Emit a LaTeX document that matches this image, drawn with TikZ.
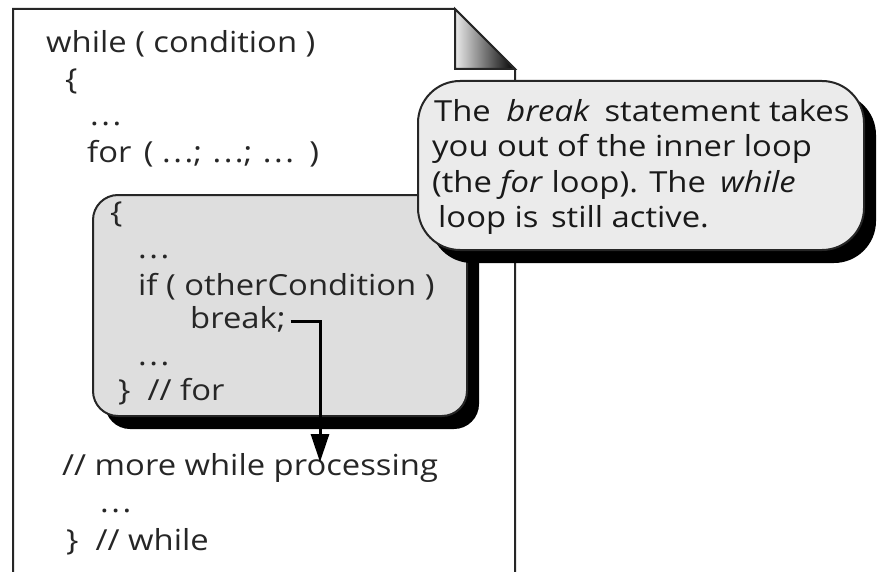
\documentclass[tikz,border=0pt]{standalone}
\usepackage{fontspec}
\setmainfont[FakeStretch=1.13]{Open Sans}
\usetikzlibrary{arrows.meta}
% spaced three-dot ellipsis
\newcommand\ddd{.\kern2.5pt.\kern2.5pt.}
\begin{document}
\begin{tikzpicture}[x=1pt,y=-1pt,
  code/.style={anchor=base west, inner sep=0pt, font=\fontsize{29}{34}\selectfont, text=black!85},
  note/.style={anchor=base west, inner sep=0pt, font=\fontsize{29}{34}\selectfont, text=black!90},
  outline/.style={line width=2pt, draw=black!85},
  shadowfill/.style={fill=black},
  flow/.style={line width=3pt, -{Triangle[length=28pt,width=18pt]}}]
\useasboundingbox (0,0) rectangle (877,572);

% sheet of paper with folded corner
\draw[outline] (13,580) -- (13,9) -- (455,9) -- (515,69) -- (515,580);
\shade[left color=white!92!black, right color=black] (455,9) -- (455,69) -- (515,69) -- cycle;
\draw[outline, line join=miter] (455,9) -- (455,69) -- (515,69) -- cycle;

% outer loop text
\node[code] (w1) at (46,53) {while ( condition )};
\node[code] (w2) at (65,90) {\{};
\node[code] (w3) at (90,126) {\ddd};
\node[code] (w4) at (87,163) {for\hspace{4pt} ( \ddd;\hspace{2pt} \ddd;\hspace{2pt} \ddd\hspace{4pt} )};

% inner loop box with drop shadow
\fill[shadowfill, rounded corners=25pt] (105,207) rectangle (479,429);
\draw[outline, fill=black!13, rounded corners=25pt] (93,195) rectangle (467,416);

\node[code] (f1) at (110,222) {\{};
\node[code] (f2) at (138,258) {\ddd};
\node[code] (f3) at (138,295) {if ( otherCondition )};
\node[code] (brk) at (190,328) {break;};
\node[code] (f5) at (138,365) {\ddd};
\node[code] (f6) at (118,400) {\}\ \ // for};

% rest of the outer loop
\node[code] (m1) at (62,475) {// more while processing};
\node[code] (m2) at (100,512) {\ddd};
\node[code] (m3) at (66,550) {\}\ \ // while};

% jump out of the inner loop
\coordinate (exit) at (320,462);
\draw[flow] ([xshift=5pt,yshift=-3pt]brk.east) -| (exit);

% callout with drop shadow
\fill[shadowfill, rounded corners=42pt] (430,93) rectangle (876,263);
\draw[outline, fill=black!8, rounded corners=42pt] (418,81) rectangle (864,250);

\node[note] (n1) at (434,122) {The\hspace{7pt} \textit{break}\hspace{6pt} statement takes};
\node[note] (n2) at (432,157) {you out of the inner loop};
\node[note] (n3) at (432,192) {(the \textit{for} loop). The\hspace{6pt} \textit{while}};
\node[note] (n4) at (438,227) {loop is\hspace{4pt} still active.};
\end{tikzpicture}
\end{document}
